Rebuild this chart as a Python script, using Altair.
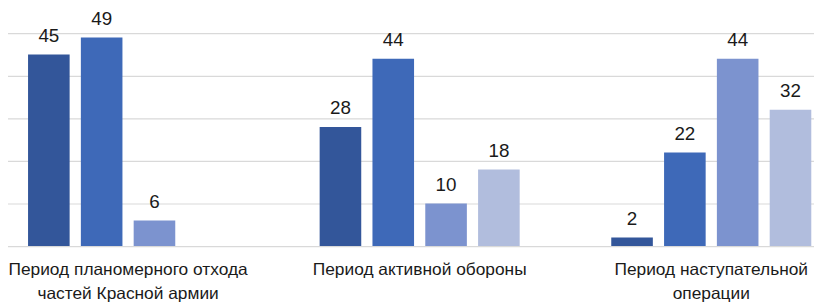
import altair as alt
import pandas as pd

groups = [
    "Период планомерного отхода частей Красной армии",
    "Период активной обороны",
    "Период наступательной операции",
]
group_labels = [
    ["Период планомерного отхода", "частей Красной армии"],
    ["Период активной обороны"],
    ["Период наступательной", "операции"],
]
series = ["Ряд 1", "Ряд 2", "Ряд 3", "Ряд 4"]
values = [
    [45, 49, 6, None],
    [28, 44, 10, 18],
    [2, 22, 44, 32],
]
colors = ["#33569A", "#3E69B8", "#7C93CF", "#B1BDDD"]

rows = []
for g, vals in zip(groups, values):
    for s, v in zip(series, vals):
        if v is not None:
            rows.append({"group": g, "series": s, "value": v})
df = pd.DataFrame(rows)

label_map = {g: "|".join(l) for g, l in zip(groups, group_labels)}
label_expr = "split({" + ",".join(
    f"'{g}': '{label_map[g]}'" for g in groups
) + "}[datum.label], '|')"

FONT = "Liberation Sans"

x = alt.X(
    "group:N",
    sort=groups,
    scale=alt.Scale(domain=groups, range=[-26, 857.5], paddingInner=0, paddingOuter=0),
    axis=alt.Axis(
        title=None,
        ticks=False,
        domain=False,
        labelAngle=0,
        labelFont=FONT,
        labelFontSize=17.5,
        labelColor="#1a1a1a",
        labelPadding=15,
        labelLineHeight=24,
        labelLimit=0,
        labelOverlap=False,
        labelExpr=label_expr,
        grid=False,
    ),
)
xo = alt.XOffset(
    "series:N",
    sort=series,
    scale=alt.Scale(domain=series, paddingInner=0.2125, paddingOuter=0.867),
)
y = alt.Y(
    "value:Q",
    scale=alt.Scale(domain=[0, 55.58], nice=False, zero=True),
    axis=alt.Axis(
        title=None,
        values=[0, 10, 20, 30, 40, 50],
        labels=False,
        ticks=False,
        domain=False,
        grid=True,
        gridColor="#d9d9d9",
        gridWidth=1.2,
    ),
)
color = alt.Color(
    "series:N",
    sort=series,
    scale=alt.Scale(domain=series, range=colors),
    legend=None,
)

bars = alt.Chart(df).mark_bar().encode(x=x, xOffset=xo, y=y, color=color)
labels = alt.Chart(df).mark_text(
    baseline="alphabetic", dy=-13, font=FONT, fontSize=19, color="#1a1a1a"
).encode(x=x, xOffset=xo, y=y, text="value:Q")

chart = (
    alt.layer(bars, labels)
    .properties(
        width=814,
        height=239,
        autosize=alt.AutoSizeParams(type="none"),
        padding={"left": 0, "top": 0, "right": 0, "bottom": 56},
        background="white",
    )
    .configure_view(stroke=None)
)

chart.save("out.html", embed_options={"renderer": "svg", "actions": False})
